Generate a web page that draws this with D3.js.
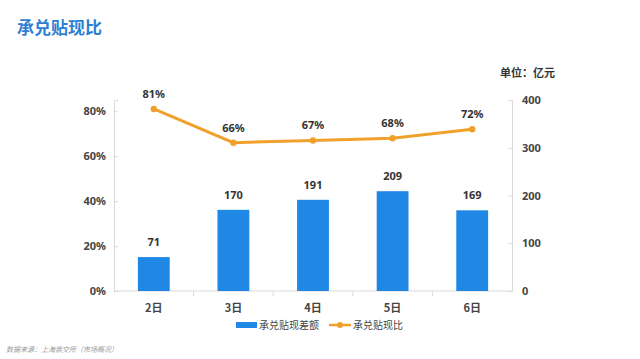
<!DOCTYPE html>
<html><head><meta charset="utf-8">
<script src="https://cdn.jsdelivr.net/npm/d3@7"></script>
<style>
html,body{margin:0;padding:0;background:#fff;}
svg{display:block;font-family:"Noto Sans CJK SC","Noto Sans",sans-serif;}
</style></head>
<body><svg id="c" width="640" height="359"></svg>
<script>
const categories = ["2日","3日","4日","5日","6日"];
const amountValues = [71,170,191,209,169];
const ratioValues = [0.81,0.66,0.67,0.68,0.72];
const leftTicks = [0,0.2,0.4,0.6,0.8];
const rightTicks = [0,100,200,300,400];

const svg = d3.select("#c");
const W = 640, H = 359;
const m = {left:114, right:128, top:100, bottom:68};
const x0 = m.left, x1 = W - m.right, y0 = H - m.bottom, y1 = m.top;

const x = d3.scaleBand().domain(categories).range([x0, x1]).paddingInner(0.6).paddingOuter(0.3);
const yR = d3.scaleLinear().domain([0,400]).range([y0, y1]);
const yL = d3.scaleLinear().domain([0,0.85]).range([y0, y1]);

const blue = "#1f88e5", orange = "#f0a12c", axisCol = "#d9d9d9", txt = "#444";

// title
svg.append("text").attr("x",17).attr("y",34).attr("fill","#2d7fd3")
  .attr("font-size",17).attr("font-weight","bold").text("承兑贴现比");
svg.append("text").attr("x",500).attr("y",77).attr("fill","#333")
  .attr("font-size",11).attr("font-weight","bold").text("单位：亿元");

// left axis
const gL = svg.append("g").attr("transform",`translate(${x0},0)`)
  .call(d3.axisRight(yL).tickValues(leftTicks).tickFormat(d3.format(".0%")).tickSize(4).tickPadding(0));
gL.select(".domain").attr("stroke",axisCol);
gL.selectAll(".tick line").attr("stroke",axisCol);
gL.selectAll(".tick text").attr("x",-8).attr("text-anchor","end").attr("fill",txt)
  .attr("font-size",11).attr("font-weight","bold").attr("font-family","Noto Sans, sans-serif");

// right axis
const gR = svg.append("g").attr("transform",`translate(${x1},0)`)
  .call(d3.axisLeft(yR).tickValues(rightTicks).tickSize(4).tickPadding(0));
gR.select(".domain").attr("stroke",axisCol);
gR.selectAll(".tick line").attr("stroke",axisCol);
gR.selectAll(".tick text").attr("x",10).attr("text-anchor","start").attr("fill",txt)
  .attr("font-size",11).attr("font-weight","bold").attr("font-family","Noto Sans, sans-serif");

// x axis
const step = x.step();
const gX = svg.append("g").attr("transform",`translate(0,${y0})`);
gX.append("line").attr("x1",x0).attr("x2",x1).attr("stroke",axisCol);
const bounds = categories.map((c,i)=> i===0 ? null : x(c) - (step - x.bandwidth())/2).filter(d=>d!==null);
gX.selectAll(".xt").data(bounds).enter().append("line")
  .attr("x1",d=>d).attr("x2",d=>d).attr("y1",0).attr("y2",5).attr("stroke",axisCol);
gX.selectAll(".xl").data(categories).enter().append("text")
  .attr("x",d=>x(d)+x.bandwidth()/2).attr("y",21).attr("text-anchor","middle")
  .attr("fill",txt).attr("font-size",11).attr("font-weight","bold").text(d=>d);

// bars
svg.selectAll(".bar").data(amountValues).enter().append("rect")
  .attr("x",(d,i)=>x(categories[i])).attr("width",x.bandwidth())
  .attr("y",d=>yR(d)).attr("height",d=>y0-yR(d)).attr("fill",blue);
svg.selectAll(".bl").data(amountValues).enter().append("text")
  .attr("x",(d,i)=>x(categories[i])+x.bandwidth()/2).attr("y",d=>yR(d)-11)
  .attr("text-anchor","middle").attr("fill","#333").attr("font-size",11).attr("font-weight","bold")
  .attr("font-family","Noto Sans, sans-serif").text(d=>d);

// line
const cx = (i)=> x(categories[i])+x.bandwidth()/2;
svg.append("path").datum(ratioValues)
  .attr("d", d3.line().x((d,i)=>cx(i)).y(d=>yL(d)))
  .attr("fill","none").attr("stroke",orange).attr("stroke-width",3);
svg.selectAll(".pt").data(ratioValues).enter().append("circle")
  .attr("cx",(d,i)=>cx(i)).attr("cy",d=>yL(d)).attr("r",3.2).attr("fill",orange);
svg.selectAll(".pl").data(ratioValues).enter().append("text")
  .attr("x",(d,i)=>cx(i)).attr("y",d=>yL(d)-11)
  .attr("text-anchor","middle").attr("fill","#333").attr("font-size",11).attr("font-weight","bold")
  .attr("font-family","Noto Sans, sans-serif").text(d=>d3.format(".0%")(d));

// legend
const lg = svg.append("g");
lg.append("rect").attr("x",236).attr("y",322).attr("width",21).attr("height",6).attr("fill",blue);
lg.append("text").attr("x",259).attr("y",329).attr("font-size",10).attr("fill","#444").text("承兑贴现差额");
lg.append("line").attr("x1",329).attr("x2",351).attr("y1",325).attr("y2",325).attr("stroke",orange).attr("stroke-width",2.5);
lg.append("circle").attr("cx",340).attr("cy",325).attr("r",3).attr("fill",orange);
lg.append("text").attr("x",353).attr("y",329).attr("font-size",10).attr("fill","#444").text("承兑贴现比");

// source
svg.append("text").attr("x",6).attr("y",352).attr("font-size",7).attr("font-style","italic")
  .attr("fill","#999").text("数据来源：上海票交所（市场概况）");
</script></body></html>
